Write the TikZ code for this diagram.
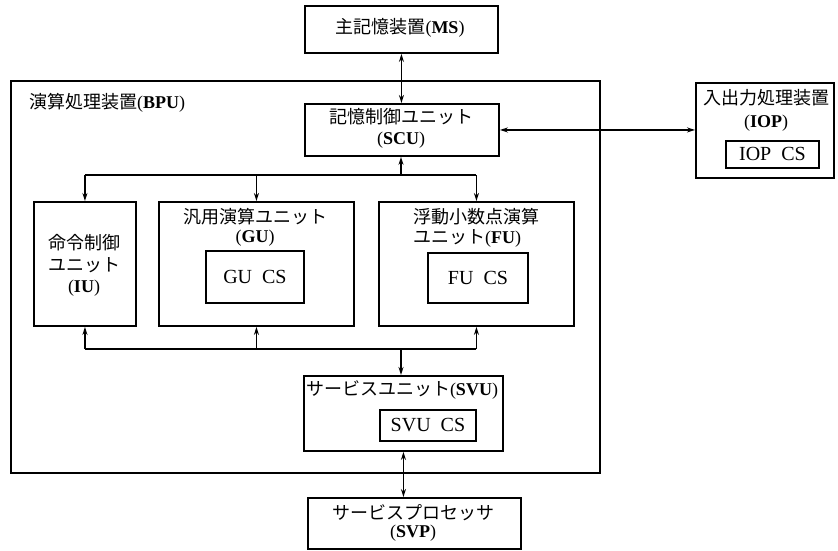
\documentclass[tikz,border=0pt]{standalone}
\usepackage{fontspec}
\setmainfont{Liberation Serif}
\newfontfamily\jp{Noto Sans CJK JP}
\usetikzlibrary{arrows.meta}
\newcommand\J[1]{{\jp #1}}
\begin{document}
\begin{tikzpicture}[x=1pt,y=-1pt,
  box/.style={draw,line width=1.9pt,inner sep=0pt,anchor=north west,font=\fontsize{20}{24}\selectfont},
  lbl/.style={inner sep=0pt,font=\fontsize{18}{22}\selectfont},
  conn/.style={line width=1.5pt},
  ar/.style={conn,-{Stealth[length=8pt,width=5pt]}},
  dar/.style={conn,{Stealth[length=8pt,width=5pt]}-{Stealth[length=8pt,width=5pt]}}]
\useasboundingbox (0,0) rectangle (838,550);
% boxes
\node[box,minimum width=193pt,minimum height=47pt] (ms) at (304,5) {};
\node[box,minimum width=589pt,minimum height=392pt] (bpu) at (10,80) {};
\node[box,minimum width=194pt,minimum height=52pt] (scu) at (304,103) {};
\node[box,minimum width=138pt,minimum height=95pt] (iop) at (695,82) {};
\node[box,minimum width=93pt,minimum height=27pt] (iopcs) at (725,140) {IOP\ \ CS};
\node[box,minimum width=102pt,minimum height=124pt] (iu) at (33,201) {};
\node[box,minimum width=195pt,minimum height=124pt] (gu) at (158,201) {};
\node[box,minimum width=98pt,minimum height=52pt] (gucs) at (205,250) {GU\ \ CS};
\node[box,minimum width=195pt,minimum height=124pt] (fu) at (378,201) {};
\node[box,minimum width=100pt,minimum height=50pt] (fucs) at (427,252) {FU\ \ CS};
\node[box,minimum width=199pt,minimum height=75pt] (svu) at (303,375) {};
\node[box,minimum width=96pt,minimum height=31pt] (svucs) at (379,409) {SVU\ \ CS};
\node[box,minimum width=213pt,minimum height=51pt] (svp) at (307,497) {};
% texts
\node[lbl] (tms) at (400,28) {\J{主記憶装置}(\textbf{MS})};
\node[lbl] (tscu1) at (401,117) {\J{記憶制御ユニット}};
\node[lbl] (tscu2) at (401,140) {(\textbf{SCU})};
\node[lbl] (tiop1) at (766,98) {\J{入出力処理装置}};
\node[lbl] (tiop2) at (766,123) {(\textbf{IOP})};
\node[lbl,anchor=west] (tbpu) at (29,103) {\J{演算処理装置}(\textbf{BPU})};
\node[lbl] (tiu1) at (84,243) {\J{命令制御}};
\node[lbl] (tiu2) at (84,265) {\J{ユニット}};
\node[lbl] (tiu3) at (84,288) {(\textbf{IU})};
\node[lbl] (tgu1) at (255,217) {\J{汎用演算ユニット}};
\node[lbl] (tgu2) at (255,238) {(\textbf{GU})};
\node[lbl,anchor=west] (tfu1) at (413,217) {\J{浮動小数点演算}};
\node[lbl,anchor=west] (tfu2) at (413,238) {\J{ユニット}(\textbf{FU})};
\node[lbl] (tsvu) at (402,390) {\J{サービスユニット}(\textbf{SVU})};
\node[lbl] (tsvp1) at (413,513) {\J{サービスプロセッサ}};
\node[lbl] (tsvp2) at (413,533) {(\textbf{SVP})};
% connectors
\draw[dar] (ms.south) -- (ms.south |- scu.north);
\draw[dar] (scu.east) -- (iop.west |- scu.east);
\coordinate (b1) at (401,175);
\draw[ar] (b1) -- (b1 |- scu.south);
\draw[conn] (iu.north |- b1) -- (fu.north |- b1);
\draw[ar] (iu.north |- b1) -- (iu.north);
\draw[ar] (gu.north |- b1) -- (gu.north);
\draw[ar] (fu.north |- b1) -- (fu.north);
\coordinate (b2) at (401,349);
\draw[conn] (iu.south |- b2) -- (fu.south |- b2);
\draw[ar] (iu.south |- b2) -- (iu.south);
\draw[ar] (gu.south |- b2) -- (gu.south);
\draw[ar] (fu.south |- b2) -- (fu.south);
\draw[ar] (b2) -- (b2 |- svu.north);
\draw[dar] (svu.south) -- (svu.south |- svp.north);
\end{tikzpicture}
\end{document}
